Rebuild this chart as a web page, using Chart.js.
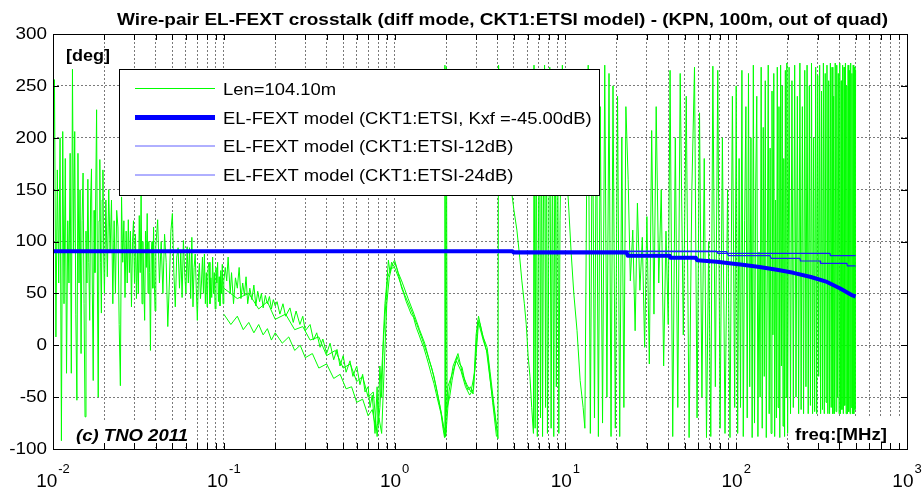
<!DOCTYPE html>
<html>
<head>
<meta charset="utf-8">
<script src="https://cdn.jsdelivr.net/npm/chart.js@4.4.1/dist/chart.umd.min.js"></script>
<style>
  body { margin: 0; background: #fff; }
</style>
</head>
<body>
<canvas id="fextPhaseChart" width="922" height="494"></canvas>
<script>
// Phase of measured EL-FEXT (green) vs ETSI model lines (blue), freq in MHz, phase in deg

const titleText = 'Wire-pair EL-FEXT crosstalk (diff mode, CKT1:ETSI model) - (KPN, 100m, out of quad)';
const seriesLabels = [
  'Len=104.10m',
  'EL-FEXT model (CKT1:ETSI, Kxf =-45.00dB)',
  'EL-FEXT model (CKT1:ETSI-12dB)',
  'EL-FEXT model (CKT1:ETSI-24dB)'
];
const yTicks = [-100, -50, 0, 50, 100, 150, 200, 250, 300];
const decades = [-2, -1, 0, 1, 2, 3];

// measured trace (main)
const greenFreq = [
  0.0100, 0.0102, 0.0104, 0.0106, 0.0108, 0.0110, 0.0112, 0.0114, 0.0116, 0.0118,
  0.0120, 0.0122, 0.0124, 0.0126, 0.0128, 0.0130, 0.0132, 0.0134, 0.0136, 0.0138,
  0.0140, 0.0142, 0.0144, 0.0146, 0.0148, 0.0150, 0.0152, 0.0154, 0.0156, 0.0158,
  0.0160, 0.0162, 0.0164, 0.0166, 0.0168, 0.0170, 0.0172, 0.0174, 0.0176, 0.0178,
  0.0180, 0.0182, 0.0184, 0.0186, 0.0188, 0.0190, 0.0192, 0.0194, 0.0196, 0.0198, 0.0200,
  0.0204, 0.0208, 0.0212, 0.0216, 0.0220, 0.0224, 0.0228, 0.0232, 0.0236, 0.0240,
  0.0244, 0.0248, 0.0252, 0.0256, 0.0260, 0.0264, 0.0268, 0.0272, 0.0276, 0.0280,
  0.0284, 0.0288, 0.0292, 0.0296, 0.0300, 0.0304, 0.0308, 0.0312, 0.0316, 0.0320,
  0.0324, 0.0328, 0.0332, 0.0336, 0.0340, 0.0344, 0.0348, 0.0352, 0.0356, 0.0360,
  0.0364, 0.0368, 0.0372, 0.0376, 0.0380, 0.0384, 0.0388, 0.0392, 0.0396, 0.0400,
  0.041, 0.042, 0.043, 0.044, 0.045, 0.046, 0.047, 0.048, 0.049, 0.050,
  0.051, 0.052, 0.053, 0.054, 0.055, 0.056, 0.057, 0.058, 0.059, 0.060,
  0.061, 0.062, 0.063, 0.064, 0.065, 0.066, 0.067, 0.068, 0.069, 0.070,
  0.071, 0.072, 0.073, 0.074, 0.075, 0.076, 0.077, 0.078, 0.079, 0.080,
  0.081, 0.082, 0.083, 0.084, 0.085, 0.086, 0.087, 0.088, 0.089, 0.090,
  0.091, 0.092, 0.093, 0.094, 0.095, 0.096, 0.097, 0.098, 0.099, 0.100,
  0.102, 0.104, 0.106, 0.109, 0.111, 0.114, 0.117, 0.120, 0.123, 0.126,
  0.129, 0.132, 0.135, 0.138, 0.142, 0.146, 0.150, 0.154, 0.158, 0.162,
  0.166, 0.170, 0.175, 0.180, 0.185, 0.190, 0.195, 0.200,
  0.205, 0.213, 0.222, 0.230, 0.244, 0.255, 0.265, 0.279, 0.290, 0.300,
  0.320, 0.335, 0.350, 0.366, 0.380, 0.400, 0.419, 0.440, 0.460, 0.479,
  0.500, 0.520, 0.548, 0.570, 0.600, 0.627, 0.650, 0.671, 0.700, 0.718,
  0.740, 0.768, 0.790, 0.800, 0.820, 0.840, 0.860, 0.878, 0.900, 0.920,
  0.940, 0.960, 0.980, 1.005,
  1.03, 1.07, 1.10, 1.13, 1.17, 1.21, 1.25, 1.29, 1.34, 1.39,
  1.44, 1.48, 1.53, 1.58, 1.64, 1.70, 1.76, 1.82, 1.87, 1.92,
  1.96, 1.97, 1.99, 2.01, 2.03, 2.10, 2.17, 2.25, 2.32, 2.40,
  2.48, 2.58, 2.69, 2.78, 2.88, 2.98, 3.08, 3.16, 3.30, 3.48,
  3.62, 3.77, 3.90, 4.03,
  4.06, 4.20, 4.40, 4.60, 4.80, 5.00, 5.20, 5.40, 5.56, 5.75,
  5.90, 6.05, 6.20, 6.35, 6.50, 6.55, 6.65, 6.75, 6.85, 6.95,
  7.05, 7.15, 7.25, 7.35, 7.45, 7.55, 7.65, 7.75, 7.85, 7.95,
  8.10, 8.25, 8.40, 8.55, 8.70, 8.85, 9.00, 9.15, 9.30,
  9.6, 10.0, 10.4, 10.8, 11.2, 11.7, 12.2, 12.7, 13.0,
  13.3, 13.6, 14.0, 14.4, 14.8, 15.2, 15.6, 16.0, 16.5, 17.0,
  17.5, 18.0, 18.5, 19.0, 19.6, 20.2, 20.8, 21.4, 22.0, 22.6,
  23.3, 24.0, 24.8, 25.6, 26.4, 27.3, 28.2, 29.1, 30.0, 31.0,
  32.0, 33.0, 34.0, 35.2, 36.4, 37.6, 38.8, 40.0,
  41, 42.5, 44, 45.5, 47, 49, 51, 53, 55, 57,
  59, 61, 63, 65, 67, 69, 71, 73, 75.5, 78,
  80.5, 83, 86, 89, 92, 95, 98,
  100, 102, 104, 106, 108, 110, 112, 114, 116, 118,
  120, 122, 124, 126, 128, 130, 132, 134, 136, 138,
  140, 142, 144, 146, 148, 150, 152, 154, 156, 158,
  160, 162, 164, 166, 168, 170, 172, 174, 176, 178,
  180, 182, 184, 186, 188, 190, 192, 194, 196, 198, 200,
  204, 208, 212, 216, 220, 224, 228, 232, 236, 240,
  244, 248, 252, 256, 260, 264, 268, 272, 276, 280,
  284, 288, 292, 296, 300, 304, 308, 312, 316, 320,
  324, 328, 332, 336, 340, 344, 348, 352, 356, 360,
  364, 368, 372, 376, 380, 384, 388, 392, 396, 400,
  404, 408, 412, 416, 420, 424, 428, 432, 436, 440,
  444, 448, 452, 456, 460, 464, 468, 472, 476, 480,
  484, 488, 492, 496, 500
];
const greenDeg = [
  150, 256, 8, 169, 60, 200, -92, 206, 40, 180,
  -27, 120, 60, 185, -27, 266, 90, 206, 30, -53,
  185, 60, 150, -8, 120, 166, 40, -69, 110, 60,
  160, 80, 24, 140, 170, 50, -34, 130, 70, 150,
  227, 60, -50, 120, 179, 80, 31, 140, 169, 90, 50,
  140, 66, 150, 90, 140, 40, 120, 50, 130, 114,
  20, -39, 143, 80, 120, 46, 110, 60, 121, 70,
  110, 37, 100, 120, 60, 107, 45, 90, 50, 125,
  70, 147, 40, 100, 60, 24, 110, 75, 127, 50,
  100, 70, -5, 90, 100, 55, 114, 60, 33, 95,
  121, 60, 100, 50, 107, 80, 18, 60, 110, 127,
  70, 37, 85, 94, 55, 90, 46, 101, 70, 50,
  95, 60, 94, 45, 104, 37, 75, 88, 55, 24,
  65, 79, 45, 60, 85, 50, 88, 40, 70, 37,
  75, 80, 40, 65, 46, 85, 50, 70, 35, 75,
  60, 80, 42, 66, 38, 72, 50, 78, 40, 62,
  75, 62, 85, 50, 70, 40, 65, 55, 75, 45,
  60, 48, 66, 40, 55, 44, 58, 38, 52, 42,
  50, 36, 48, 40, 47, 35, 44, 38,
  42, 30, 40, 28, 36, 22, 33, 20, 28, 14,
  20, 5, 12, -2, 6, -8, 2, -14, -4, -20,
  -10, -26, -15, -30, -20, -38, -28, -45, -40, -60,
  -48, -85, -40, -75, -20, -50, 10, 40, 60, 82,
  70, 80, 76, 79,
  74, 64, 55, 50, 42, 36, 30, 27, 17, 10,
  3, -2, -10, -18, -28, -37, -48, -58, -66, -80,
  -89, 270, -88, 268, -60, -50, -34, -20, -11, -18,
  -21, -35, -43, -40, -47, -10, 24, 21, 8, -2,
  -25, -50, -70, -90,
  270, 230, 200, 175, 153, 130, 111, 85, 62, 40,
  20, -10, -30, -60, -85, 270, -80, 260, -88, 100,
  265, -70, 240, -88, 160, 270, -60, 250, -85, 30,
  268, -80, 200, -88, 262, -40, 250, -85, 120,
  270, 180, 140, 90, 50, 14, -34, -60, -80,
  143, 270, -85, 256, -70, 245, -88, 230, -75, 270,
  -50, 262, -88, 250, -80, 240, -88, 200, -60, 230,
  160, 62, 111, 14, 137, 53, 104, -2, 124, -18,
  207, 30, 230, 60, 150, -20, 110, 20,
  265, -88, 200, -60, 262, 10, 240, -89, 150, 268,
  -70, 224, -50, 180, -89, 100, -88, 269, -40, 265,
  -80, 200, -85, 150, -89, 240, -60,
  250, -85, 180, -60, 265, -88, 120, 230, -70, 262,
  -40, 200, -89, 270, -75, 150, 240, -88, 90, -50,
  268, -80, 210, -30, 255, -89, 60, 270, -66, 190,
  -85, 245, 10, 262, -88, 140, -70, 268, -60, 230,
  -89, 270, -20, 250, -78, 180, -88, 265, -50, 272, -85,
  268, -66, 255, -60, 270, -50, 240, -66, 272, -62,
  230, -66, 265, -40, 270, -66, 250, -58, 272, -66,
  200, -64, 268, -66, 260, -30, 270, -66, 245, -62,
  272, -66, 262, -55, 270, -66, 255, -66, 272, -60,
  268, -66, 240, -66, 272, -64, 270, -50, 262, -66,
  272, -66, 255, -62, 270, -66, 268, -58, 272, -66,
  250, -66, 270, -64, 265, -66, 272, -60, 262, -66,
  270, -66, 268, -62, 265
];

// the two other measured traces visible between 0.1 and 4 MHz
const green2Freq = [0.10, 0.12, 0.14, 0.16, 0.18, 0.20, 0.23, 0.26, 0.29, 0.32, 0.36, 0.40, 0.45, 0.50, 0.55,
  0.60, 0.65, 0.70, 0.75, 0.79, 0.82, 0.85, 0.88, 0.91, 0.95, 1.0, 1.05, 1.15, 1.25, 1.35, 1.45, 1.55, 1.65,
  1.75, 1.85, 1.93, 2.0, 2.08, 2.2, 2.35, 2.5, 2.65, 2.8, 2.95, 3.1, 3.3, 3.5, 3.75, 3.95];
const green2Deg = [55, 45, 50, 35, 42, 25, 30, 15, 18, 5, 8, -10, -5, -22, -18,
  -35, -30, -50, -45, -88, -60, -10, 30, 65, 74, 75, 66, 48, 34, 20, 6, -8, -22,
  -40, -60, -78, -85, -45, -20, -8, -28, -38, -45, -25, 22, 5, -8, -55, -88];
const green3Freq = [0.10, 0.11, 0.12, 0.13, 0.14, 0.15, 0.16, 0.17, 0.18, 0.19, 0.20, 0.22, 0.24, 0.26, 0.28,
  0.30, 0.33, 0.36, 0.40, 0.44, 0.48, 0.52, 0.56, 0.60, 0.65, 0.70, 0.74, 0.78, 0.81, 0.84, 0.87, 0.90, 0.93,
  0.97, 1.0, 1.05, 1.1, 1.2, 1.3, 1.4, 1.5, 1.6, 1.7, 1.8, 1.9, 1.97, 2.05, 2.15, 2.3, 2.45, 2.6, 2.75, 2.9,
  3.0, 3.1, 3.25, 3.45, 3.7, 4.0];
const green3Deg = [30, 20, 28, 15, 22, 12, 20, 10, 16, 5, 12, 2, 8, -5, 0,
  -12, -8, -22, -18, -32, -28, -42, -40, -55, -52, -68, -62, -82, -70, -85, -20, 40, 65,
  78, 82, 70, 62, 45, 30, 15, 2, -15, -30, -50, -70, -88, -40, -30, -15, -25, -40, -48, -42,
  10, 28, 12, -5, -45, -85];

// model lines
const modelFreq = [0.01, 4.9, 5.0, 22.8, 23.2, 40.8, 41.2, 58, 59, 77, 91, 109, 137, 173, 216, 274, 340, 404, 480, 500];
const modelDeg = [90.5, 90.5, 89.3, 89.3, 86.3, 86.3, 84.3, 84.3, 82, 80.5, 79, 77.5, 75.5, 72.8, 69.8, 65.8, 61, 55, 48, 47];
const model12Freq = [0.01, 88, 90, 158, 160, 236, 238, 310, 312, 445, 447, 500];
const model12Deg = [90.3, 90.3, 86.3, 86.3, 83.8, 83.8, 81.2, 81.2, 78.9, 78.9, 76.6, 76.6];
const model24Freq = [0.01, 77, 78, 354, 356, 500];
const model24Deg = [90.7, 90.7, 88.6, 88.6, 86.3, 86.3];

const FONT = '"Liberation Sans", Arial, sans-serif';

const xGridValues = [];
decades.slice(0, -1).forEach(d => {
  for (let m = 1; m <= 9; m++) xGridValues.push(m * Math.pow(10, d));
});
xGridValues.push(Math.pow(10, decades[decades.length - 1]));

function toPoints(fs, ds) {
  return fs.map((f, i) => ({ x: f, y: ds[i] }));
}

// text squeezed/stretched horizontally, like the original bitmap
function stretchText(ctx, text, x, y, font, sx, align) {
  ctx.save();
  ctx.font = font;
  const w = ctx.measureText(text).width * sx;
  const left = align === 'right' ? x - w : align === 'center' ? x - w / 2 : x;
  ctx.translate(left, y);
  ctx.scale(sx, 1);
  ctx.textAlign = 'left';
  ctx.fillText(text, 0, 0);
  ctx.restore();
}

function fitText(ctx, text, left, right, y, font) {
  ctx.save();
  ctx.font = font;
  const w = ctx.measureText(text).width;
  ctx.translate(left, y);
  ctx.scale((right - left) / w, 1);
  ctx.textAlign = 'left';
  ctx.fillText(text, 0, 0);
  ctx.restore();
}

const matlabFrame = {
  id: 'matlabFrame',
  afterDraw(chart) {
    const { ctx, chartArea: a, scales: { x, y } } = chart;
    ctx.save();
    ctx.fillStyle = '#000';
    ctx.textBaseline = 'alphabetic';

    // corner annotations
    ctx.fillStyle = '#fff';
    ctx.fillRect(72, 422, 122, 25);
    ctx.fillRect(790, 417, 116, 31);
    ctx.fillStyle = '#000';
    fitText(ctx, '(c) TNO 2011', 76, 188, 441, 'italic bold 17px ' + FONT);
    fitText(ctx, 'freq:[MHz]', 795, 887, 440, 'bold 17px ' + FONT);
    fitText(ctx, '[deg]', 66, 110, 61, 'bold 17px ' + FONT);

    // axes box + inward ticks
    ctx.strokeStyle = '#000';
    ctx.lineWidth = 1;
    ctx.strokeRect(Math.round(a.left) + 0.5, Math.round(a.top) + 0.5,
      Math.round(a.right - a.left), Math.round(a.bottom - a.top));
    ctx.beginPath();
    x.ticks.forEach(t => {
      const px = Math.round(x.getPixelForValue(t.value)) + 0.5;
      ctx.moveTo(px, a.bottom); ctx.lineTo(px, a.bottom - 6);
      ctx.moveTo(px, a.top); ctx.lineTo(px, a.top + 6);
    });
    y.ticks.forEach(t => {
      const py = Math.round(y.getPixelForValue(t.value)) + 0.5;
      ctx.moveTo(a.left, py); ctx.lineTo(a.left + 6, py);
      ctx.moveTo(a.right, py); ctx.lineTo(a.right - 6, py);
    });
    ctx.stroke();

    // legend
    ctx.fillStyle = '#fff';
    ctx.fillRect(120, 70, 479, 125);
    ctx.strokeRect(119.5, 69.5, 480, 126);
    const rowLine = [88.5, 117.5, 146, 175];
    const rowText = [95, 123.5, 152, 181];
    seriesLabels.forEach((lab, i) => {
      const ds = chart.data.datasets[i];
      ctx.strokeStyle = ds.legendColor || ds.borderColor;
      ctx.lineWidth = ds.legendWidth || ds.borderWidth;
      ctx.beginPath();
      ctx.moveTo(135, rowLine[i]);
      ctx.lineTo(215, rowLine[i]);
      ctx.stroke();
      ctx.fillStyle = '#000';
      stretchText(ctx, lab, 223, rowText[i], '16px ' + FONT, 1.15, 'left');
    });

    // y tick labels
    ctx.fillStyle = '#000';
    ctx.textBaseline = 'middle';
    y.ticks.forEach(t => {
      stretchText(ctx, String(t.value), 47, y.getPixelForValue(t.value) + 0.5, '16px ' + FONT, 1.18, 'right');
    });

    // x tick labels 10^n
    ctx.textBaseline = 'alphabetic';
    decades.forEach(d => {
      const px = x.getPixelForValue(Math.pow(10, d));
      ctx.font = '19px ' + FONT;
      const wBase = ctx.measureText('10').width;
      ctx.font = '13px ' + FONT;
      const wExp = ctx.measureText(String(d)).width;
      const left = px - (wBase + wExp + 1) / 2;
      ctx.font = '19px ' + FONT;
      ctx.fillText('10', left, 487);
      ctx.font = '13px ' + FONT;
      ctx.fillText(String(d), left + wBase + 1, 473);
    });

    // title
    fitText(ctx, titleText, 117, 888, 25, 'bold 16px ' + FONT);
    ctx.restore();
  }
};

new Chart(document.getElementById('fextPhaseChart'), {
  type: 'line',
  data: {
    datasets: [
      { label: seriesLabels[0], data: toPoints(greenFreq, greenDeg), borderColor: '#00ff00', borderWidth: 1, order: 2 },
      { label: seriesLabels[1], data: toPoints(modelFreq, modelDeg), borderColor: '#0000ff', borderWidth: 4, legendWidth: 5, order: 0 },
      { label: seriesLabels[2], data: toPoints(model12Freq, model12Deg), borderColor: '#1a1aff', borderWidth: 1.2, legendColor: '#6060ff', legendWidth: 1, order: 1 },
      { label: seriesLabels[3], data: toPoints(model24Freq, model24Deg), borderColor: '#1a1aff', borderWidth: 1.2, legendColor: '#6060ff', legendWidth: 1, order: 1 },
      { label: 'trace 2', data: toPoints(green2Freq, green2Deg), borderColor: '#00ff00', borderWidth: 1, order: 3 },
      { label: 'trace 3', data: toPoints(green3Freq, green3Deg), borderColor: '#00ff00', borderWidth: 1, order: 3 }
    ]
  },
  options: {
    responsive: false,
    animation: false,
    layout: { padding: { top: 34, right: 15, left: 0, bottom: 0 } },
    elements: {
      point: { radius: 0 },
      line: { tension: 0, borderJoinStyle: 'round' }
    },
    plugins: {
      legend: { display: false },
      title: { display: false },
      tooltip: { enabled: false }
    },
    scales: {
      x: {
        type: 'logarithmic',
        min: 0.01,
        max: 1000,
        afterBuildTicks: s => { s.ticks = xGridValues.map(v => ({ value: v })); },
        afterFit: s => { s.height = 45; },
        ticks: { display: false },
        grid: { color: '#7a7a7a', lineWidth: 1, drawTicks: false },
        border: { display: false, dash: [2, 2] }
      },
      y: {
        min: -100,
        max: 300,
        afterBuildTicks: s => { s.ticks = yTicks.map(v => ({ value: v })); },
        afterFit: s => { s.width = 53; },
        ticks: { display: false },
        grid: { color: '#7a7a7a', lineWidth: 1, drawTicks: false },
        border: { display: false, dash: [2, 2] }
      }
    }
  },
  plugins: [matlabFrame]
});
</script>
</body>
</html>
